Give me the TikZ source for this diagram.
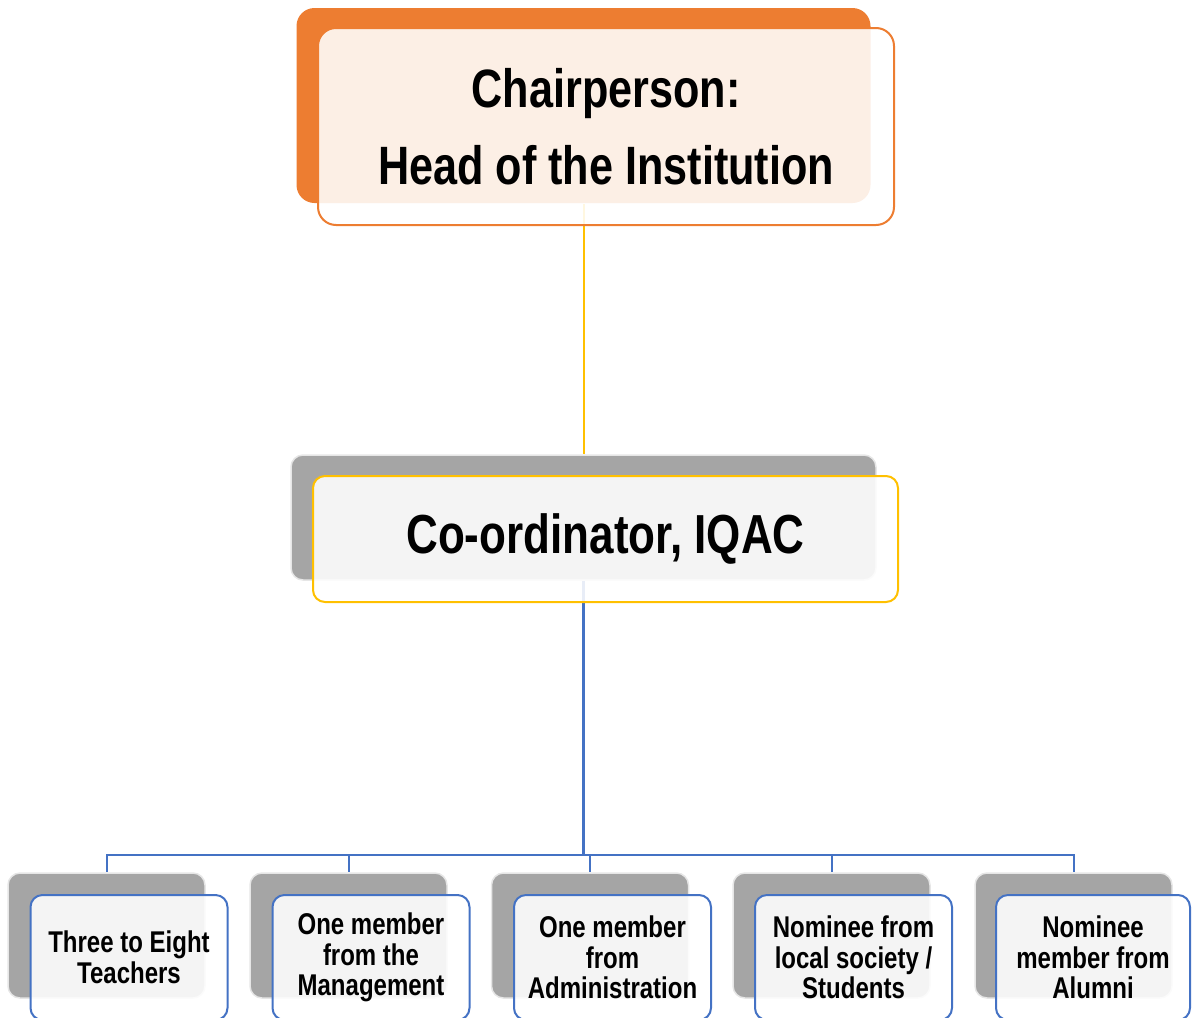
\documentclass[tikz,border=0pt]{standalone}
\usepackage{fontspec}
\setmainfont{Liberation Sans}[FakeStretch=0.8]
\definecolor{ced7d31}{RGB}{237,125,49}
\definecolor{cffc000}{RGB}{255,192,0}
\definecolor{c4472c4}{RGB}{68,114,196}
\definecolor{ca5a5a5}{RGB}{165,165,165}
\definecolor{ce6e6e6}{RGB}{230,230,230}
\tikzset{backbox/.style={draw=ce6e6e6,line width=0.75pt,fill=ca5a5a5,rounded corners=6pt,
minimum width=98.5pt,minimum height=62.5pt,inner sep=0pt},
frontbox/.style={draw=c4472c4,line width=1pt,fill=white,fill opacity=0.88,text opacity=1,
rounded corners=6pt,minimum width=98.5pt,minimum height=62.5pt,inner sep=0pt,align=center,
font=\bfseries\fontsize{15}{15.25}\selectfont}}

\begin{document}
\begin{tikzpicture}[x=0.5pt,y=-0.5pt]
\useasboundingbox (0,0) rectangle (1192,1017);

% back plates
\node[backbox,draw=none,fill=ced7d31,rounded corners=9pt,minimum width=287pt,minimum height=97.5pt] (chairback) at (583.5,105.5) {};
\node[backbox,minimum width=292.5pt] (coordback) at (583.5,517.5) {};
\node[backbox] (m1back) at (106.5,935.5) {};
\node[backbox] (m2back) at (348.5,935.5) {};
\node[backbox] (m3back) at (590,935.5) {};
\node[backbox] (m4back) at (831.5,935.5) {};
\node[backbox] (m5back) at (1073.5,935.5) {};
\coordinate (hub) at (583.5,855);

% connectors
\path[draw=cffc000,line width=1pt] (chairback.south) -- (coordback.north);
\path[draw=c4472c4,line width=1.5pt] (coordback.south) -- (hub);
\path[draw=c4472c4,line width=1pt] (hub) -| (m1back.north);
\path[draw=c4472c4,line width=1pt] (hub) -| (m2back.north);
\path[draw=c4472c4,line width=1pt] (hub) -| (m3back.north);
\path[draw=c4472c4,line width=1pt] (hub) -| (m4back.north);
\path[draw=c4472c4,line width=1pt] (hub) -| (m5back.north);

% front plates with the texts
\node[frontbox,draw=ced7d31,rounded corners=9pt,minimum width=288pt,minimum height=98.5pt,
font=\bfseries\fontsize{27}{38.5}\selectfont] (chair) at (606,126.5) {Chairperson:\\Head of the Institution};
\node[frontbox,draw=cffc000,minimum width=292.5pt,minimum height=63pt,
font=\bfseries\fontsize{27.5}{33}\selectfont] (coord) at (605.5,539) {Co-ordinator, IQAC};
\node[frontbox] (m1) at (129,957.5) {Three to Eight\\Teachers};
\node[frontbox] (m2) at (371,957.5) {One member\\from the\\Management};
\node[frontbox] (m3) at (612.5,957.5) {One member\\from\\Administration};
\node[frontbox] (m4) at (853.5,957.5) {Nominee from\\local society /\\Students};
\node[frontbox,minimum width=97pt] (m5) at (1093,957.5) {Nominee\\member from\\Alumni};

\end{tikzpicture}
\end{document}
